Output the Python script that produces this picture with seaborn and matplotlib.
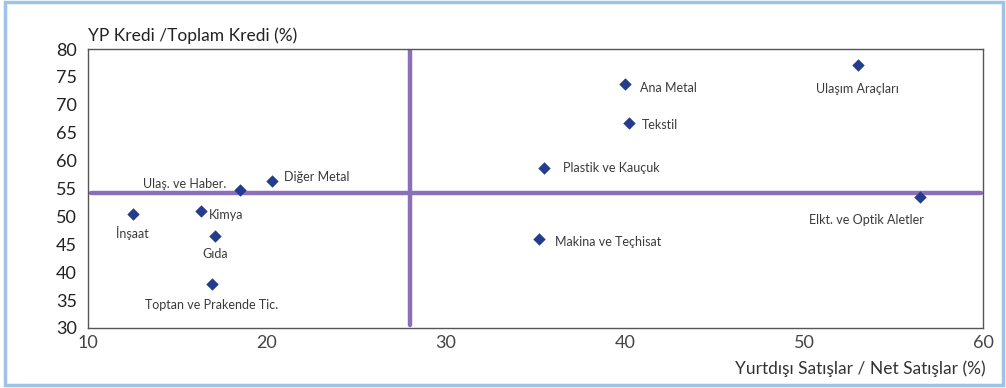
import matplotlib
matplotlib.use("Agg")
import matplotlib.pyplot as plt
import seaborn as sns
import pandas as pd
from matplotlib.patches import Rectangle

sectors = ["İnşaat", "Kimya", "Gıda", "Toptan ve Prakende Tic.", "Ulaş. ve Haber.",
           "Diğer Metal", "Plastik ve Kauçuk", "Makina ve Teçhisat", "Ana Metal",
           "Tekstil", "Ulaşım Araçları", "Elkt. ve Optik Aletler"]
export_share = [12.5, 16.3, 17.1, 16.9, 18.5, 20.3, 35.5, 35.2, 40.0, 40.2, 53.0, 56.5]
fx_credit_share = [50.5, 50.9, 46.4, 37.9, 54.8, 56.4, 58.7, 45.9, 73.8, 66.8, 77.1, 53.5]
x_threshold = 28.0
y_threshold = 54.2

x_ticks = [10, 20, 30, 40, 50, 60]
y_ticks = [30, 35, 40, 45, 50, 55, 60, 65, 70, 75, 80]

# label offsets in pixels (dx, dy, ha, va)
offsets = {
    "İnşaat": (0, -12, "center", "top"),
    "Kimya": (8, -4, "left", "center"),
    "Gıda": (0, -12, "center", "top"),
    "Toptan ve Prakende Tic.": (0, -15, "center", "top"),
    "Ulaş. ve Haber.": (-14, 6, "right", "center"),
    "Diğer Metal": (12, 4, "left", "center"),
    "Plastik ve Kauçuk": (19, 0, "left", "center"),
    "Makina ve Teçhisat": (16, -3, "left", "center"),
    "Ana Metal": (15, -4, "left", "center"),
    "Tekstil": (13, -2, "left", "center"),
    "Ulaşım Araçları": (0, -18, "center", "top"),
    "Elkt. ve Optik Aletler": (-54, -17, "center", "top"),
}

df = pd.DataFrame({"sector": sectors, "x": export_share, "y": fx_credit_share})

sns.set_theme(style="white")
plt.rcParams["font.family"] = ["Lato", "DejaVu Sans"]

fig = plt.figure(figsize=(10.06, 3.88), dpi=100)
ax = fig.add_axes([88 / 1006, 1 - 328 / 388, (983 - 88) / 1006, (328 - 49) / 388])

ax.axvline(x_threshold, ymin=0.01, ymax=1.0, color="#8B6FB8", lw=3.2, zorder=1)
ax.axhline(y_threshold, xmin=0.003, xmax=0.998, color="#8B6FB8", lw=3.2, zorder=1)

sns.scatterplot(data=df, x="x", y="y", marker="D", s=40, color="#233C8E",
                edgecolor="#233C8E", linewidth=0, ax=ax, zorder=3)

for s, xv, yv in zip(sectors, export_share, fx_credit_share):
    dx, dy, ha, va = offsets[s]
    ax.annotate(s, (xv, yv), xytext=(dx, dy), textcoords="offset pixels",
                ha=ha, va=va, fontsize=9, color="#3a3a3a")

ax.set_xlim(10, 60)
ax.set_ylim(30, 80)
ax.set_xticks(x_ticks)
ax.set_yticks(y_ticks)
ax.tick_params(axis="y", labelsize=13, colors="#222222", length=0, pad=8)
ax.tick_params(axis="x", labelsize=13, colors="#444444", length=0, pad=5)
for sp in ax.spines.values():
    sp.set_color("#555555")
    sp.set_linewidth(1.0)
ax.set_xlabel("")
ax.set_ylabel("")

fig.text(88 / 1006, 1 - 36 / 388, "YP Kredi /Toplam Kredi (%)", ha="left", va="center",
         fontsize=12.5, color="#222222")
fig.text(986 / 1006, 1 - 369 / 388, "Yurtdışı Satışlar / Net Satışlar (%)", ha="right",
         va="center", fontsize=12.5, color="#333333")

fig.patches.append(Rectangle((5 / 1006, 3 / 388), 998 / 1006, 383 / 388,
                             transform=fig.transFigure, fill=False,
                             edgecolor="#9DC3E6", linewidth=2.5))

fig.savefig("out.png", dpi=100)
